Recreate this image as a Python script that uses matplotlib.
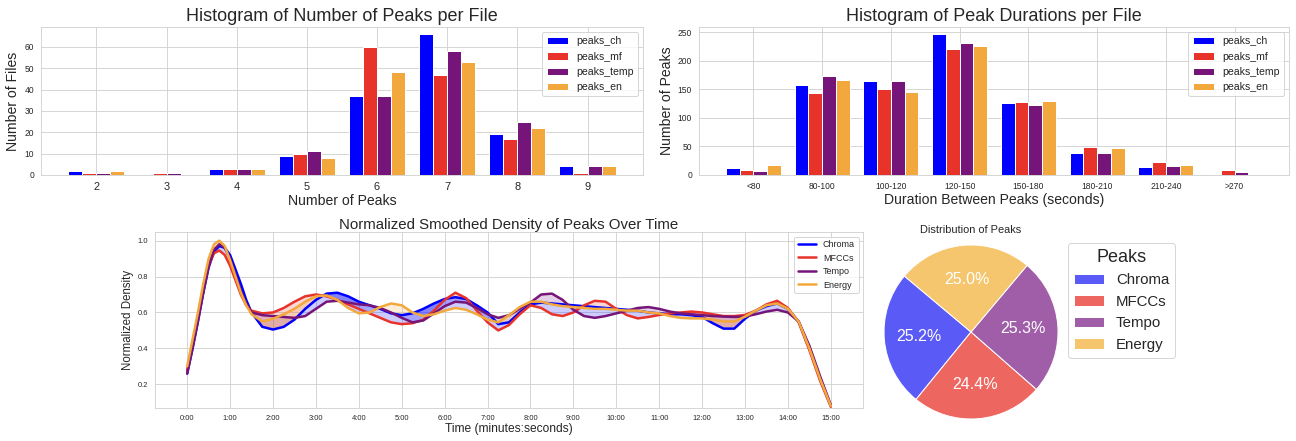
import numpy as np
import matplotlib
matplotlib.use("Agg")
import matplotlib.pyplot as plt
import seaborn as sns

sns.set_style("whitegrid")
plt.rcParams['font.family'] = ['Liberation Sans', 'DejaVu Sans']

#%% data
series_names = ['peaks_ch', 'peaks_mf', 'peaks_temp', 'peaks_en']
bar_colors = ['#0000FF', '#E8332A', '#751479', '#F2A83C']

# number of peaks per file
n_peaks = ['2', '3', '4', '5', '6', '7', '8', '9']
count_ch = [2, 0, 3, 9, 37, 66, 19, 4]
count_mf = [1, 1, 3, 10, 60, 47, 17, 1]
count_temp = [1, 1, 3, 11, 37, 58, 25, 4]
count_en = [2, 0, 3, 8, 48, 53, 22, 4]

# durations between peaks
dur_bins = ['<80', '80-100', '100-120', '120-150', '150-180', '180-210', '210-240', '>270']
dur_ch = [12, 158, 165, 247, 126, 39, 14, 1]
dur_mf = [9, 143, 151, 220, 128, 49, 23, 9]
dur_temp = [7, 174, 165, 232, 122, 38, 15, 6]
dur_en = [17, 167, 145, 226, 130, 48, 18, 0]

# smoothed density: every 7.5 s up to 1:30, then every 15 s up to 15:00 (minutes)
time_min = np.concatenate([np.arange(0, 1.5, 0.125), np.arange(1.5, 15.01, 0.25)])
dens_chroma = [0.26, 0.40, 0.55, 0.71, 0.85, 0.94, 0.97, 0.96, 0.92, 0.84, 0.76, 0.67,
               0.60, 0.52, 0.505, 0.52, 0.56, 0.62,
               0.67, 0.705, 0.71, 0.69, 0.66, 0.64, 0.62, 0.595, 0.585, 0.595, 0.62, 0.65,
               0.675, 0.685, 0.675, 0.64, 0.60, 0.535, 0.545, 0.60, 0.645, 0.655, 0.65, 0.645,
               0.64, 0.635, 0.63, 0.625, 0.62, 0.615, 0.61, 0.60, 0.595, 0.59, 0.59, 0.585,
               0.575, 0.54, 0.51, 0.51, 0.565, 0.61, 0.635, 0.65, 0.62, 0.55, 0.40, 0.23, 0.08]
dens_mfcc = [0.28, 0.43, 0.58, 0.73, 0.86, 0.93, 0.945, 0.92, 0.86, 0.78, 0.70, 0.64,
             0.61, 0.595, 0.60, 0.625, 0.66, 0.69,
             0.70, 0.69, 0.67, 0.645, 0.62, 0.595, 0.57, 0.545, 0.535, 0.54, 0.56, 0.61,
             0.67, 0.71, 0.68, 0.61, 0.545, 0.50, 0.53, 0.59, 0.64, 0.625, 0.59, 0.58,
             0.60, 0.64, 0.665, 0.66, 0.62, 0.585, 0.567, 0.575, 0.586, 0.595, 0.60, 0.605,
             0.60, 0.59, 0.58, 0.58, 0.586, 0.61, 0.645, 0.665, 0.625, 0.545, 0.39, 0.22, 0.075]
dens_tempo = [0.26, 0.40, 0.55, 0.71, 0.86, 0.95, 0.98, 0.96, 0.90, 0.81, 0.72, 0.65,
              0.60, 0.585, 0.58, 0.575, 0.57, 0.58,
              0.62, 0.66, 0.665, 0.655, 0.645, 0.64, 0.625, 0.60, 0.57, 0.545, 0.555, 0.595,
              0.635, 0.66, 0.655, 0.625, 0.59, 0.57, 0.585, 0.62, 0.655, 0.70, 0.705, 0.67,
              0.615, 0.58, 0.57, 0.58, 0.595, 0.61, 0.625, 0.63, 0.62, 0.605, 0.595, 0.59,
              0.585, 0.58, 0.577, 0.575, 0.577, 0.59, 0.605, 0.615, 0.60, 0.55, 0.415, 0.245, 0.085]
dens_energy = [0.30, 0.45, 0.60, 0.76, 0.90, 0.98, 1.0, 0.97, 0.89, 0.80, 0.71, 0.64,
               0.59, 0.55, 0.565, 0.59, 0.62, 0.66,
               0.69, 0.695, 0.67, 0.625, 0.595, 0.60, 0.63, 0.65, 0.64, 0.60, 0.58, 0.59,
               0.61, 0.625, 0.615, 0.59, 0.56, 0.545, 0.585, 0.63, 0.66, 0.66, 0.645, 0.635,
               0.63, 0.625, 0.62, 0.62, 0.615, 0.61, 0.61, 0.60, 0.595, 0.58, 0.57, 0.567,
               0.567, 0.56, 0.55, 0.55, 0.577, 0.61, 0.64, 0.65, 0.62, 0.55, 0.40, 0.23, 0.08]
line_labels = ['Chroma', 'MFCCs', 'Tempo', 'Energy']

# share of peaks
pie_labels = ['Chroma', 'MFCCs', 'Tempo', 'Energy']
pie_share = [25.2, 24.4, 25.3, 25.0]
pie_colors = ['#5A5AF6', '#EE6660', '#A05EA8', '#F5C66D']

#%% figure
fig = plt.figure(figsize=(18, 6.125), dpi=72)

def grouped_bars(ax, cats, values, tick_size):
    x = np.arange(len(cats))
    w = 0.2
    for i, (vals, name, c) in enumerate(zip(values, series_names, bar_colors)):
        ax.bar(x + (i - 1.5) * w, vals, w, label=name, color=c, edgecolor='white', linewidth=1)
    ax.set_xticks(x)
    ax.set_xticklabels(cats, fontsize=tick_size)
    ax.tick_params(axis='y', labelsize=8.5)
    ax.legend(loc='upper right', fontsize=10.5)

ax1 = fig.add_axes([0.0316, 0.6032, 0.4645, 0.3356])
grouped_bars(ax1, n_peaks, [count_ch, count_mf, count_temp, count_en], 11)
ax1.set_title('Histogram of Number of Peaks per File', fontsize=18)
ax1.set_xlabel('Number of Peaks', fontsize=14, labelpad=2)
ax1.set_ylabel('Number of Files', fontsize=14)

ax2 = fig.add_axes([0.5394, 0.6032, 0.4552, 0.3356])
grouped_bars(ax2, dur_bins, [dur_ch, dur_mf, dur_temp, dur_en], 8.5)
ax2.set_title('Histogram of Peak Durations per File', fontsize=18)
ax2.set_xlabel('Duration Between Peaks (seconds)', fontsize=14, labelpad=2)
ax2.set_ylabel('Number of Peaks', fontsize=14)

# density over time
ax3 = fig.add_axes([0.1196, 0.0748, 0.5463, 0.3991])
t_sec = time_min * 60
dens = [np.array(dens_chroma), np.array(dens_mfcc), np.array(dens_tempo), np.array(dens_energy)]
for d, c in zip(dens[1:], bar_colors[1:]):
    ax3.fill_between(t_sec, dens[0], d, where=d >= dens[0], color=c, alpha=0.2,
                     interpolate=True, linewidth=0)
    ax3.fill_between(t_sec, dens[0], d, where=d < dens[0], color=bar_colors[0], alpha=0.2,
                     interpolate=True, linewidth=0)
for d, c, lab in zip(dens, bar_colors, line_labels):
    ax3.plot(t_sec, d, color=c, linewidth=2.5, label=lab, solid_joinstyle='round')
ticks = np.arange(0, 901, 60)
ax3.set_xticks(ticks)
ax3.set_xticklabels([f'{int(s // 60)}:{int(s % 60):02d}' for s in ticks], fontsize=7.5)
ax3.tick_params(axis='y', labelsize=7.5)
ax3.set_ylim(0.068, 1.048)
ax3.set_title('Normalized Smoothed Density of Peaks Over Time', fontsize=15, pad=3)
ax3.set_xlabel('Time (minutes:seconds)', fontsize=12, labelpad=1)
ax3.set_ylabel('Normalized Density', fontsize=11.5)
ax3.legend(loc='upper right', fontsize=9)

# pie
ax4 = fig.add_axes([0.6821, 0.0499, 0.1343, 0.3946])
wedges, _, autotexts = ax4.pie(pie_share, colors=pie_colors, autopct='%1.1f%%', startangle=140,
                               textprops={'color': 'white', 'fontsize': 16},
                               wedgeprops={'edgecolor': 'white', 'linewidth': 1})
ax4.set_xlim(-1, 1)
ax4.set_ylim(-1, 1)
ax4.set_title('Distribution of Peaks', fontsize=11, pad=12)
ax4.legend(wedges, pie_labels, title='Peaks', fontsize=15, title_fontsize=18,
           loc='upper left', bbox_to_anchor=(0.824, 0.449), bbox_transform=fig.transFigure,
           borderaxespad=0)

fig.savefig('out.png', dpi=72)
